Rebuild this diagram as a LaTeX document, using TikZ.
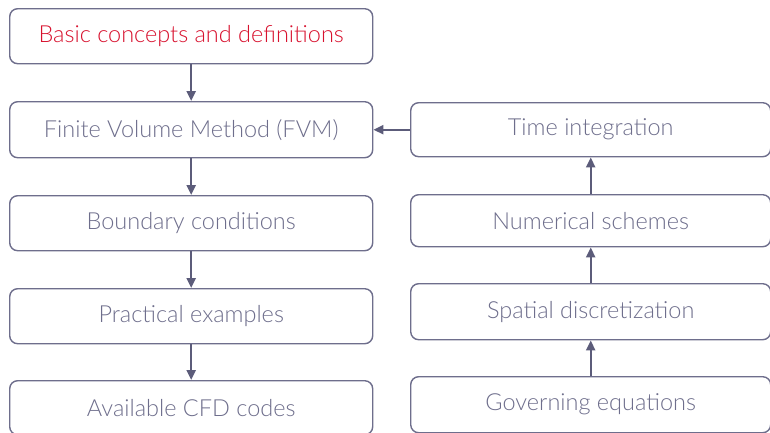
\documentclass[tikz,border=0pt]{standalone}
\usepackage{fontspec}
\setmainfont{Lato Light}
\usetikzlibrary{arrows.meta}
\definecolor{boxgray}{HTML}{6E6E8C}
\definecolor{arrowgray}{HTML}{5C5C7A}
\definecolor{titlered}{HTML}{D8112E}
\tikzset{
  card/.style={draw=boxgray, line width=1.4pt, rounded corners=8pt, fill=white,
    text=boxgray, font=\fontsize{23.5}{26}\selectfont, anchor=north west, inner sep=0pt},
  link/.style={draw=arrowgray, line width=2.2pt, -{Triangle[length=10pt,width=9pt]}}
}
\begin{document}
\begin{tikzpicture}[x=1pt,y=-1pt]
\useasboundingbox (0,0) rectangle (770,432);
% left column
\node[card, minimum width=363pt, minimum height=55pt, text=titlered] (basic) at (9,8) {Basic concepts and definitions};
\node[card, minimum width=363pt, minimum height=56pt] (fvm) at (9,101) {Finite Volume Method (FVM)};
\node[card, minimum width=363pt, minimum height=55pt] (bc) at (9,195) {Boundary conditions};
\node[card, minimum width=363pt, minimum height=55pt] (ex) at (9,288) {Practical examples};
\node[card, minimum width=363pt, minimum height=54pt] (cfd) at (9,380) {Available CFD codes};
% right column
\node[card, minimum width=360pt, minimum height=54pt] (time) at (410,102) {Time integration};
\node[card, minimum width=360pt, minimum height=52pt] (num) at (410,194) {Numerical schemes};
\node[card, minimum width=360pt, minimum height=56pt] (spat) at (410,283) {Spatial discretization};
\node[card, minimum width=360pt, minimum height=56pt] (gov) at (410,376) {Governing equations};
% connectors
\draw[link] (basic.south) -- (fvm.north);
\draw[link] (fvm.south) -- (bc.north);
\draw[link] (bc.south) -- (ex.north);
\draw[link] (ex.south) -- (cfd.north);
\draw[link] (gov.north) -- (spat.south);
\draw[link] (spat.north) -- (num.south);
\draw[link] (num.north) -- (time.south);
\draw[link] (time.west |- fvm.east) -- (fvm.east);
\end{tikzpicture}
\end{document}
